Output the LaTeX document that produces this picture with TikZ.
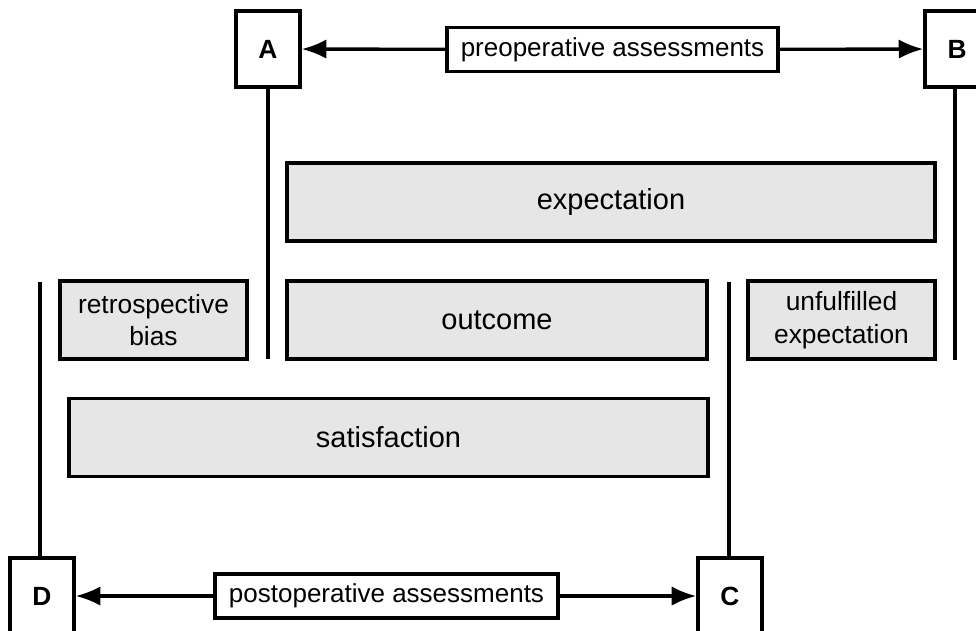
\documentclass[tikz,border=0pt]{standalone}
\usepackage{fontspec}
\setmainfont{Liberation Sans}
\usetikzlibrary{calc}
\usetikzlibrary{positioning}
\usetikzlibrary{arrows.meta}

\definecolor{boxgray}{RGB}{230,230,230}

\begin{document}
\begin{tikzpicture}[%
  >={Latex[length=14pt,width=11pt]},
  x=0.02cm, y=-0.02cm,
  every path/.style={line width=1.9pt},
  letterbox/.style={draw, line width=1.9pt, minimum width=64*0.02cm,
    minimum height=76*0.02cm, inner sep=0pt,
    font=\fontsize{15}{18}\selectfont\bfseries},
  timebox/.style={draw, line width=1.9pt, fill=white, inner sep=0pt,
    minimum height=44*0.02cm, font=\fontsize{14.8}{17}\selectfont},
  termbox/.style={draw, line width=1.9pt, fill=boxgray, inner sep=0pt,
    minimum height=78*0.02cm, align=center,
    font=\fontsize{16.5}{19}\selectfont},
  smallterm/.style={termbox, minimum width=187*0.02cm,
    font=\fontsize{15}{18.5}\selectfont},
]

  \useasboundingbox (0,0) rectangle (976,630);

  % time points
  \node[letterbox] (A) at (268,49) {A};
  \node[letterbox] (B) at (957,49) {B};
  \node[letterbox] (D) at (42,596) {D};
  \node[letterbox] (C) at (730,596) {C};

  \node[timebox, minimum width=331*0.02cm] (pre) at (612.5,49.5) {preoperative assessments};
  \node[timebox, minimum width=343*0.02cm] (post) at (386.5,596) {postoperative assessments};

  % terms
  \node[termbox, minimum width=648*0.02cm] (expect) at (611,202) {expectation};
  \node[smallterm] (retro) at (153.5,320) {retrospective\\bias};
  \node[termbox, minimum width=420*0.02cm] (outcome) at (497,320) {outcome};
  \node[smallterm] (unful) at (841.5,320) {unfulfilled\\expectation};
  \node[termbox, minimum width=639*0.02cm] (satis) at (388.5,437.5) {satisfaction};

  \coordinate (a1) at (268,359);
  \coordinate (b1) at (955,360);
  \coordinate (d1) at (40,282);
  \coordinate (c1) at (729,282);

  \draw[->] (pre) -- (A);
  \draw[->] (pre) -- (B);
  \draw[->] (post) -- (D);
  \draw[->] (post) -- (C);

  \draw (A.south) -- (a1);
  \draw (B.south -| b1) -- (b1);
  \draw (D.north -| d1) -- (d1);
  \draw (C.north -| c1) -- (c1);

\end{tikzpicture}
\end{document}
